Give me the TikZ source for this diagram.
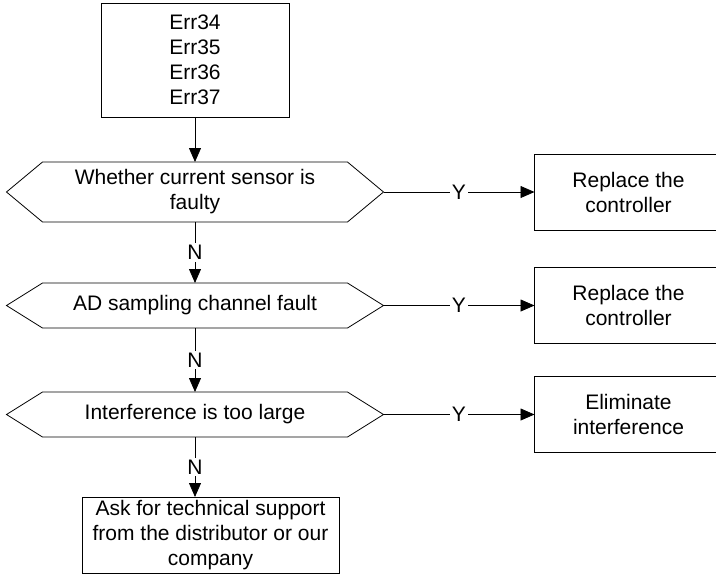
\documentclass[tikz,border=0pt]{standalone}
\usepackage{fontspec}
\setmainfont{Liberation Sans}
\usetikzlibrary{arrows.meta,positioning}

\begin{document}
\begin{tikzpicture}[
  x=1pt, y=-1pt,
  node distance=45pt and 151pt,
  font=\fontsize{21}{25}\selectfont,
  box/.style={draw, line width=0.8pt, minimum width=188pt, minimum height=76pt,
              inner sep=2pt, outer sep=0pt, align=center},
  cond/.style={minimum width=377pt, minimum height=45pt, inner sep=0pt, outer sep=0pt,
               align=center},
  arr/.style={-{Triangle[length=14pt, width=12pt]}, line width=0.8pt},
  lbl/.style={fill=white, inner sep=2pt}
]
  \useasboundingbox (0,0) rectangle (716,574);

  \node[box, minimum height=114pt] (err) at (195,60) {Err34\\Err35\\Err36\\Err37};
  \node[cond, minimum height=60pt, below=of err] (sensor) {Whether current sensor is\\faulty};
  \node[cond, below=61pt of sensor] (adc)   {AD sampling channel fault};
  \node[cond, below=64pt of adc]    (noise) {Interference is too large};
  \node[box, minimum width=257pt, below=60pt of noise, xshift=15.5pt] (support)
        {Ask for technical support\\from the distributor or our\\company};

  \node[box, right=of sensor] (repl1) {Replace the\\controller};
  \node[box, right=of adc]    (repl2) {Replace the\\controller};
  \node[box, right=of noise]  (elim)  {Eliminate\\interference};

  \foreach \d in {sensor,adc,noise}
    \draw[line width=0.8pt] (\d.west) -- ([xshift=36pt]\d.north west)
      -- ([xshift=-36pt]\d.north east) -- (\d.east)
      -- ([xshift=-36pt]\d.south east) -- ([xshift=36pt]\d.south west) -- cycle;

  \draw[arr] (err.south) -- (sensor.north);
  \draw[arr] (sensor.south) -- node[lbl] {N} (adc.north);
  \draw[arr] (adc.south)    -- node[lbl] {N} (noise.north);
  \draw[arr] (noise.south)  -- node[lbl] {N} (noise.south |- support.north);

  \draw[arr] (sensor.east) -- node[lbl] {Y} (repl1.west);
  \draw[arr] (adc.east)    -- node[lbl] {Y} (repl2.west);
  \draw[arr] (noise.east)  -- node[lbl] {Y} (elim.west);
\end{tikzpicture}
\end{document}
